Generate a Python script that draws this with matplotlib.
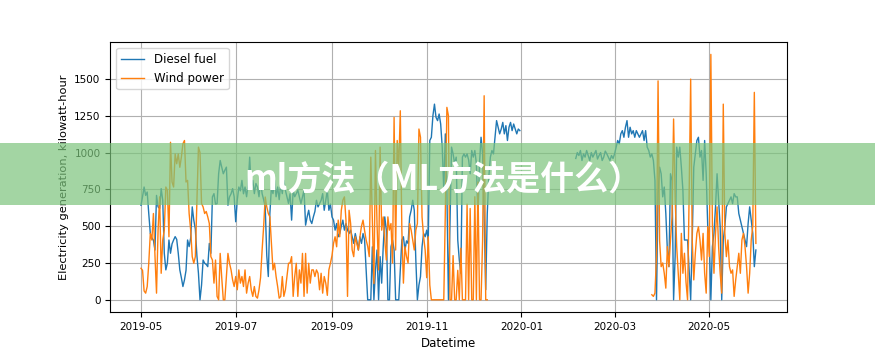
import numpy as np
import pandas as pd
import matplotlib
matplotlib.use("Agg")
import matplotlib.pyplot as plt
import matplotlib.dates as mdates
from matplotlib.patches import Rectangle

# Daily diesel generation, 2019-05-01 .. 2019-12-31
diesel_2019 = [
    642, 700, 766, 709, 732, 586, 451, 420, 405, 338,
    709, 631, 620, 755, 676, 316, 203, 250, 406, 316,
    380, 406, 429, 410, 316, 203, 150, 90, 135, 200,
    406, 361, 420, 631, 541, 480, 300, 180, 0, 100,
    270, 248, 240, 225, 383, 316, 699, 721, 650, 653,
    856, 946, 900, 856, 880, 901, 642, 699, 720, 755,
    700, 530, 676, 766, 740,
    811, 720, 766, 700, 780, 969, 766, 811, 721, 790,
    766, 700, 811, 721, 680, 631, 300, 158, 586, 766,
    721, 811, 700, 766, 680, 790, 721, 811, 744, 700,
    655, 720,
    541, 744, 700, 721, 744, 699, 653, 700, 744, 507,
    563, 608, 541, 518, 563, 600, 676, 631, 653, 676,
    721, 608, 676, 744, 608, 650, 563, 541, 473, 518,
    428, 450, 500, 541, 473, 518, 473, 450, 473, 428,
    383, 450, 400, 338, 428, 383, 450, 406,
    203, 0, 0, 0, 360, 0, 200, 338, 0, 293,
    113, 360, 563, 473, 0, 0, 360, 406, 338, 0,
    0, 0, 200, 406, 428, 338, 400, 383, 563, 608,
    676, 608, 270, 0, 100, 158, 360, 451, 428, 473,
    406, 1082, 1104, 1250, 1329, 1239, 1217, 1262,
    1194, 1037, 744, 1127, 744, 0, 518, 1037, 991, 924,
    969, 406, 270, 180, 969, 991, 969, 991, 950, 856,
    1014, 969, 1014, 924, 563, 924, 1104, 991, 563, 68,
    586, 834, 969, 1014, 991, 1104, 1217, 1172, 1127, 1160,
    1205, 1127, 1183, 1082, 1172, 1205, 1149, 1194, 1160, 1127,
    1160, 1149,
]

# Daily diesel generation, 2020-02-05 .. 2020-05-31
diesel_2020 = [
    960, 1000, 980, 1014, 946, 991, 969, 1014, 980, 946,
    1000, 969, 991, 1014, 956, 980, 1000, 946, 969, 1010,
    991, 969, 946, 980, 960,
    991, 1037, 1082, 1059, 1127, 1149, 1104, 1172, 1217, 1104,
    1172, 1127, 1149, 1104, 1149, 1127,
    1104, 1127, 1149, 1082, 1149, 1037, 1014, 969, 991, 946,
    811, 0, 721, 901, 856, 699, 766, 586, 338, 225,
    856, 811, 0,
    293, 1037, 969, 1037, 901, 744, 406, 406, 406, 200,
    0, 406, 901, 991, 1082, 1104, 969, 1014, 811,
    1082, 856, 496, 406, 0, 361, 451, 631, 856, 676,
    496, 0, 406, 496, 631, 653, 676, 699, 653, 721,
    699, 699, 586, 541, 496, 451, 406, 361, 518, 631,
    541, 451, 225, 338,
]

# Daily wind generation, 2019-05-01 .. 2019-12-10
wind_2019 = [
    214, 200, 60, 45, 90, 248, 451, 406, 586, 300,
    45, 473, 699, 180, 406, 473, 766, 744, 428, 1070,
    800, 766, 991, 924, 991, 900, 969, 1060, 1082, 800,
    811, 586, 473, 293, 248, 293, 654, 1037, 1000, 654,
    631,
    586, 600, 563, 518, 293, 270, 113, 270, 23, 0,
    315, 150, 0, 0, 158, 315, 248, 203, 135, 90,
    158, 68, 203, 113, 158, 90, 203, 45, 113, 158,
    68, 23, 90, 23, 11, 68, 150, 338, 500, 698,
    631, 586, 563, 383, 203, 248, 158, 90, 11, 23,
    158, 23, 68, 158, 248, 250,
    293, 23, 158, 248, 23, 203, 113, 315, 23, 315,
    45, 248, 113, 203, 203, 158, 203, 180, 68, 180,
    45, 158, 113, 30, 203, 248, 300, 383, 428, 360,
    541, 428, 608, 676, 699, 541, 23, 608, 518, 338,
    293, 428, 383, 338, 428, 500, 541, 470,
    406, 363, 293, 969, 540, 110, 1014, 518, 203, 1037,
    473, 563, 406, 270, 563, 473, 518, 250, 1239, 338,
    1082, 900, 1284, 473, 113, 360, 293, 250, 518, 473,
    406, 338, 473, 518, 1160, 1104, 563, 428, 338, 150,
    428, 100, 0, 0, 0, 0, 0, 0,
    0, 0, 0, 600, 1307, 1250, 0, 0, 300, 0,
    0, 200, 0, 350, 0, 0, 0, 650, 0, 620,
    0, 0, 700, 0, 800, 0, 0, 400, 1386, 0,
    0,
]

# Daily wind generation, 2020-03-25 .. 2020-05-31
wind_2020 = [
    34, 23, 45, 300, 1487, 400, 225, 250, 180, 79,
    361, 225, 406, 563, 1228, 700, 361, 180, 0, 451,
    180, 316, 120, 0, 700, 1499, 406, 135, 316, 451,
    496, 406, 270, 451, 180, 45, 496, 293, 1667, 500,
    180, 451, 631, 361, 180, 45, 1329, 451, 293, 406,
    225, 180, 203, 23, 135, 225, 316, 180, 406, 451,
    361, 225, 45, 180, 406, 500, 1409, 383,
]


def to_series(values, start):
    idx = pd.date_range(start, periods=len(values), freq="D")
    return pd.Series(values, index=idx, dtype=float)


full_idx = pd.date_range("2019-05-01", "2020-05-31", freq="D")
diesel = pd.concat([to_series(diesel_2019, "2019-05-01"),
                    to_series(diesel_2020, "2020-02-05")]).reindex(full_idx)
wind = pd.concat([to_series(wind_2019, "2019-05-01"),
                  to_series(wind_2020, "2020-03-25")]).reindex(full_idx)

plt.rcParams["font.size"] = 7.5

fig = plt.figure(figsize=(8.75, 3.51), dpi=100)
ax = fig.add_axes([0.126, 0.111, 0.773, 0.769])

ax.plot(diesel.index, diesel.values, color="tab:blue", lw=1.0, label="Diesel fuel")
ax.plot(wind.index, wind.values, color="tab:orange", lw=1.0, label="Wind power")

ax.grid(True)
ax.set_yticks([0, 250, 500, 750, 1000, 1250, 1500])
ax.xaxis.set_major_locator(mdates.MonthLocator(bymonth=[1, 3, 5, 7, 9, 11]))
ax.xaxis.set_major_formatter(mdates.DateFormatter("%Y-%m"))
ax.set_xlabel("Datetime", fontsize=8.5)
ax.set_ylabel("Electricity generation, kilowatt-hour", fontsize=8.2)
ax.legend(loc="upper left", fontsize=8.5)

# watermark banner across the middle
fig.add_artist(Rectangle((0, 0.416), 1, 0.177, transform=fig.transFigure,
                         facecolor="#7cc47c", alpha=0.7, edgecolor="none", zorder=5))
fig.text(0.507, 0.49, "ml方法（ML方法是什么）", color="white", fontsize=24.5,
         fontweight="heavy", family=["Noto Sans CJK SC", "DejaVu Sans"],
         ha="center", va="center", zorder=6)

fig.savefig("out.png", dpi=100)
